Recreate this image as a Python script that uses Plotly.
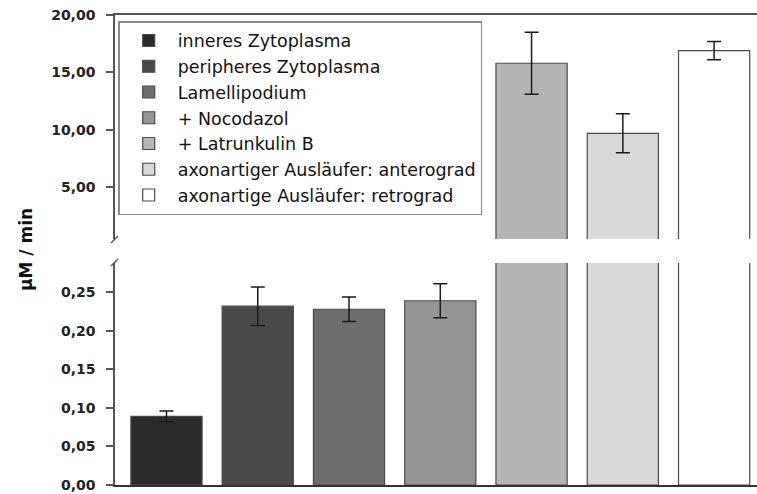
import plotly.graph_objects as go

categories = ["inneres Zytoplasma", "peripheres Zytoplasma", "Lamellipodium",
              "+ Nocodazol", "+ Latrunkulin B",
              "axonartiger Ausläufer: anterograd", "axonartige Ausläufer: retrograd"]
values = [0.089, 0.232, 0.228, 0.239, 15.8, 9.7, 16.9]
errors = [0.007, 0.025, 0.016, 0.022, 2.7, 1.7, 0.8]
colors = ["#2b2b2b", "#4a4a4a", "#6e6e6e", "#959595", "#b5b5b5", "#d9d9d9", "#ffffff"]

lower_range = [0, 0.288]
upper_range = [0.5, 20]
lower_ticks = [0, 0.05, 0.10, 0.15, 0.20, 0.25]
upper_ticks = [5, 10, 15, 20]

W, H = 757, 494
ML, MR, MT, MB = 115, 0, 15, 9
ph = H - MT - MB

fig = go.Figure()
for i, (cat, v, e, c) in enumerate(zip(categories, values, errors, colors)):
    common = dict(
        x=[cat], y=[v], name=cat,
        marker=dict(color=c, line=dict(color="#4a4a4a", width=1.2)),
        error_y=dict(type="data", array=[e], color="#1a1a1a", thickness=1.5, width=7),
        hoverinfo="name+y",
    )
    fig.add_trace(go.Bar(**common, xaxis="x", yaxis="y", showlegend=True, legendgroup=cat))
    fig.add_trace(go.Bar(**common, xaxis="x2", yaxis="y2", showlegend=False, legendgroup=cat))

axis_line = "#555555"
tickfont = dict(family="DejaVu Sans", size=14, weight="bold", color="#222222")
xrange = [-0.564, 6.47]

lower_top = (485 - 263) / ph
upper_bottom = (485 - 239) / ph

fig.update_layout(
    width=W, height=H,
    margin=dict(l=ML, r=MR, t=MT, b=MB),
    paper_bgcolor="white", plot_bgcolor="white",
    barmode="overlay", bargap=0.22,
    separators=",.",
    font=dict(family="DejaVu Sans", color="#222222"),
    xaxis=dict(domain=[0, 1], range=xrange, anchor="y", showticklabels=False, ticks="",
               showline=True, linecolor="#333333", linewidth=1.5, showgrid=False, zeroline=False,
               categoryorder="array", categoryarray=categories),
    xaxis2=dict(domain=[0, 1], range=xrange, anchor="y2", matches="x", side="top",
                showticklabels=False, ticks="", showline=True, linecolor=axis_line, linewidth=1.5,
                showgrid=False, zeroline=False, categoryorder="array", categoryarray=categories),
    yaxis=dict(domain=[0, lower_top], range=lower_range, anchor="x",
               tickmode="array", tickvals=lower_ticks, tickformat=".2f",
               ticks="outside", ticklen=7, tickwidth=1.5, tickcolor=axis_line,
               showline=True, linecolor=axis_line, linewidth=1.5,
               showgrid=False, zeroline=False, tickfont=tickfont, ticklabelstandoff=8),
    yaxis2=dict(domain=[upper_bottom, 1], range=upper_range, anchor="x2",
                tickmode="array", tickvals=upper_ticks, tickformat=".2f",
                ticks="outside", ticklen=7, tickwidth=1.5, tickcolor=axis_line,
                showline=True, linecolor=axis_line, linewidth=1.5,
                showgrid=False, zeroline=False, tickfont=tickfont, ticklabelstandoff=8),
    legend=dict(x=0.005, y=0.987, xanchor="left", yanchor="top",
                bgcolor="white", bordercolor="#888888", borderwidth=1.5,
                font=dict(family="DejaVu Sans", size=17.5, color="#111111"),
                itemwidth=48, tracegroupgap=0, traceorder="normal"),
    showlegend=True,
)

# axis break slashes
fig.add_shape(type="line", xref="x domain", yref="y2 domain",
              xsizemode="pixel", ysizemode="pixel", xanchor=0, yanchor=0,
              x0=-4, x1=3, y0=-4, y1=3, line=dict(color=axis_line, width=1.5))
fig.add_shape(type="line", xref="x domain", yref="y domain",
              xsizemode="pixel", ysizemode="pixel", xanchor=0, yanchor=1,
              x0=-4, x1=3, y0=-3, y1=4, line=dict(color=axis_line, width=1.5))

fig.add_annotation(text="µM / min", textangle=-90, xref="paper", yref="paper",
                   x=(26 - ML) / (W - ML - MR), y=0.5, xanchor="center", yanchor="middle",
                   showarrow=False, font=dict(family="DejaVu Sans", size=17, weight="bold",
                                              color="#111111"))

fig.write_html("out.html", config={"displayModeBar": False},
               post_script="document.body.style.margin='0';document.body.style.overflow='hidden';")
